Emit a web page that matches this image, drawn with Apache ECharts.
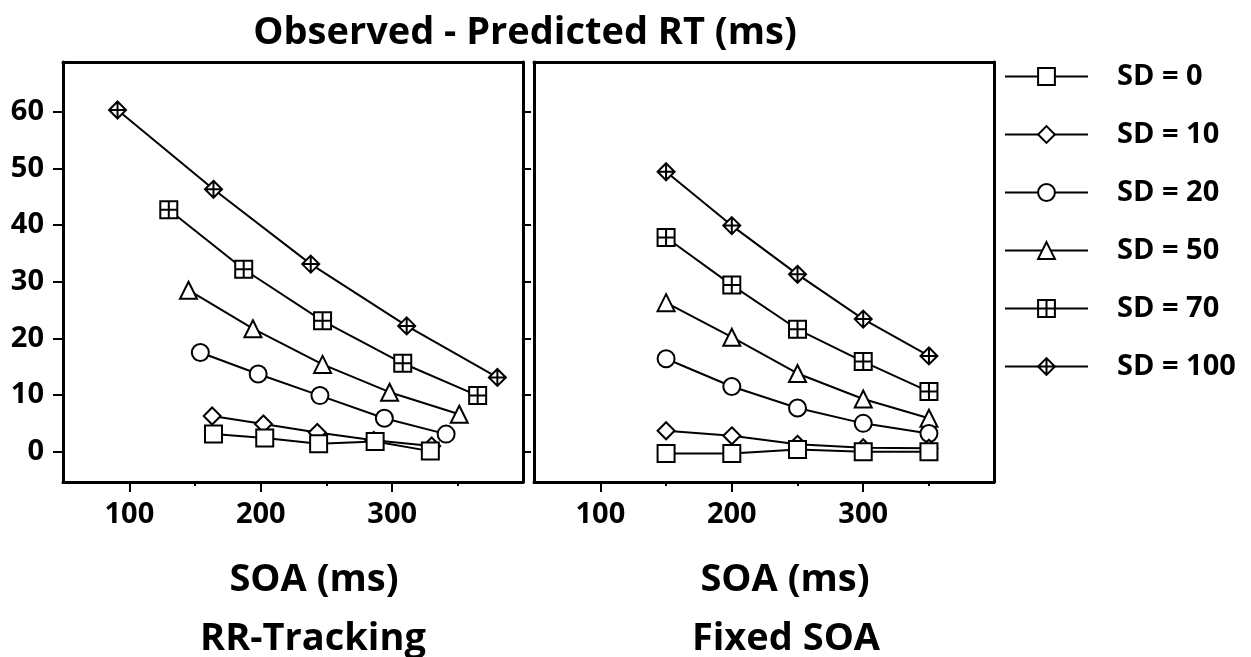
<!DOCTYPE html>
<html>
<head>
<meta charset="utf-8">
<script src="https://cdn.jsdelivr.net/npm/echarts@6/dist/echarts.min.js"></script>
<style>
html,body{margin:0;padding:0;background:#fff;}
#chart{width:1251px;height:657px;}
</style>
</head>
<body>
<div id="chart"></div>
<script>
// ---- Data ----
const seriesNames = ['SD = 0', 'SD = 10', 'SD = 20', 'SD = 50', 'SD = 70', 'SD = 100'];

// RR-Tracking panel: SOA (x) differs per series
const rrSoa0   = [164, 203, 244, 287, 329];
const rrRt0    = [3.1, 2.4, 1.4, 1.8, 0.1];
const rrSoa10  = [163, 202, 243, 286, 330];
const rrRt10   = [6.3, 4.9, 3.4, 2.0, 1.0];
const rrSoa20  = [154, 198, 245, 294, 341];
const rrRt20   = [17.5, 13.7, 9.9, 5.9, 3.1];
const rrSoa50  = [145, 194, 247, 298, 351];
const rrRt50   = [28.5, 21.7, 15.4, 10.5, 6.6];
const rrSoa70  = [130, 187, 247, 308, 365];
const rrRt70   = [42.7, 32.2, 23.1, 15.6, 9.9];
const rrSoa100 = [91, 164, 238, 311, 380];
const rrRt100  = [60.3, 46.3, 33.1, 22.2, 13.1];

// Fixed SOA panel
const fixedSoa   = [150, 200, 250, 300, 350];
const fixedRt0   = [-0.3, -0.3, 0.4, 0.0, 0.0];
const fixedRt10  = [3.7, 2.8, 1.3, 0.7, 0.6];
const fixedRt20  = [16.4, 11.5, 7.7, 5.0, 3.2];
const fixedRt50  = [26.3, 20.2, 13.8, 9.3, 5.9];
const fixedRt70  = [37.8, 29.4, 21.6, 15.9, 10.6];
const fixedRt100 = [49.4, 39.9, 31.3, 23.4, 16.9];

const xMajorTicks = [100, 200, 300];
const xMinorTicks = [150, 250, 350];
const yTicks = [0, 10, 20, 30, 40, 50, 60];

const titleText = 'Observed - Predicted RT (ms)';
const xName = 'SOA (ms)';
const panelNames = ['RR-Tracking', 'Fixed SOA'];

// ---- Styling helpers ----
const FONT = '"Open Sans", "DejaVu Sans", sans-serif';
const symbols = [
  'rect',
  'diamond',
  'circle',
  'triangle',
  'path://M0 0 L10 0 L10 10 L0 10 Z M5 0 L5 10 M0 5 L10 5',
  'path://M5 0 L10 5 L5 10 L0 5 Z M5 0 L5 10 M0 5 L10 5'
];
const rrX = [rrSoa0, rrSoa10, rrSoa20, rrSoa50, rrSoa70, rrSoa100];
const rrY = [rrRt0, rrRt10, rrRt20, rrRt50, rrRt70, rrRt100];
const fxY = [fixedRt0, fixedRt10, fixedRt20, fixedRt50, fixedRt70, fixedRt100];

const X_MIN = 49.5, X_MAX = 399.5, Y_MIN = -5.35, Y_MAX = 68.77;
const lineCol = '#000';

function zip(xs, ys) { return xs.map((x, i) => [x, ys[i]]); }

function xAxisMajor(grid) {
  return {
    type: 'value', gridIndex: grid, position: 'bottom', min: X_MIN, max: X_MAX,
    splitLine: {show: false},
    axisLine: {show: true, onZero: false, lineStyle: {color: lineCol, width: 3}},
    axisTick: {show: true, inside: false, length: 10, customValues: xMajorTicks, lineStyle: {color: lineCol, width: 2}},
    axisLabel: {show: true, customValues: xMajorTicks, margin: 18, color: '#000',
      fontFamily: FONT, fontWeight: 'bold', fontSize: 29}
  };
}
function xAxisMinor(grid) {
  return {
    type: 'value', gridIndex: grid, position: 'bottom', min: X_MIN, max: X_MAX,
    splitLine: {show: false},
    axisLine: {show: false, onZero: false},
    axisTick: {show: true, inside: false, length: 4, customValues: xMinorTicks, lineStyle: {color: lineCol, width: 2}},
    axisLabel: {show: false}
  };
}
function xAxisTop(grid) {
  return {
    type: 'value', gridIndex: grid, position: 'top', min: X_MIN, max: X_MAX,
    splitLine: {show: false},
    axisLine: {show: true, onZero: false, lineStyle: {color: lineCol, width: 3}},
    axisTick: {show: false}, axisLabel: {show: false}
  };
}
function yAxis(grid, pos, ticks, labels, tickLen) {
  return {
    type: 'value', gridIndex: grid, position: pos, min: Y_MIN, max: Y_MAX,
    splitLine: {show: false},
    axisLine: {show: true, onZero: false, lineStyle: {color: lineCol, width: 3}},
    axisTick: {show: ticks, inside: false, length: tickLen, customValues: yTicks, lineStyle: {color: lineCol, width: 2}},
    axisLabel: {show: labels, customValues: yTicks, margin: 19, color: '#000',
      fontFamily: FONT, fontWeight: 'bold', fontSize: 29}
  };
}

const series = [];
for (let i = 0; i < seriesNames.length; i++) {
  const common = {
    type: 'line', name: seriesNames[i], symbol: symbols[i], symbolSize: 17,
    z: 10 - i, animation: false, silent: true,
    itemStyle: {color: '#fff', borderColor: '#000', borderWidth: 2},
    lineStyle: {color: '#000', width: 2}
  };
  series.push(Object.assign({}, common, {xAxisIndex: 0, yAxisIndex: 0, data: zip(rrX[i], rrY[i])}));
  series.push(Object.assign({}, common, {xAxisIndex: 3, yAxisIndex: 2, data: zip(fixedSoa, fxY[i])}));
}

const titleStyle = {fontFamily: FONT, fontWeight: 'bold', fontSize: 38, color: '#000'};
const option = {
  backgroundColor: '#fff',
  animation: false,
  title: [
    {text: titleText, left: 525, top: 14, textAlign: 'center', padding: 0, textStyle: titleStyle},
    {text: xName, left: 314, top: 561, textAlign: 'center', padding: 0, textStyle: titleStyle},
    {text: panelNames[0], left: 313, top: 620, textAlign: 'center', padding: 0, textStyle: titleStyle},
    {text: xName, left: 785, top: 561, textAlign: 'center', padding: 0, textStyle: titleStyle},
    {text: panelNames[1], left: 786, top: 620, textAlign: 'center', padding: 0, textStyle: titleStyle}
  ],
  legend: {
    orient: 'vertical', left: 1004, top: 62, padding: 0,
    itemWidth: 83, itemHeight: 21, itemGap: 29,
    data: seriesNames,
    textStyle: {fontFamily: FONT, fontWeight: 'bold', fontSize: 29, color: '#000', padding: [0, 0, 0, 24]},
    selectedMode: false
  },
  grid: [
    {left: 63, top: 62, width: 460, height: 420},
    {left: 534, top: 62, width: 460, height: 420}
  ],
  xAxis: [
    xAxisMajor(0), xAxisMinor(0), xAxisTop(0),
    xAxisMajor(1), xAxisMinor(1), xAxisTop(1)
  ],
  yAxis: [
    yAxis(0, 'left', true, true, 10),
    yAxis(0, 'right', true, false, 8),
    yAxis(1, 'left', false, false, 0),
    yAxis(1, 'right', false, false, 0)
  ],
  series: series
};

const chart = echarts.init(document.getElementById('chart'), null, {renderer: 'canvas'});
chart.setOption(option);
</script>
</body>
</html>
